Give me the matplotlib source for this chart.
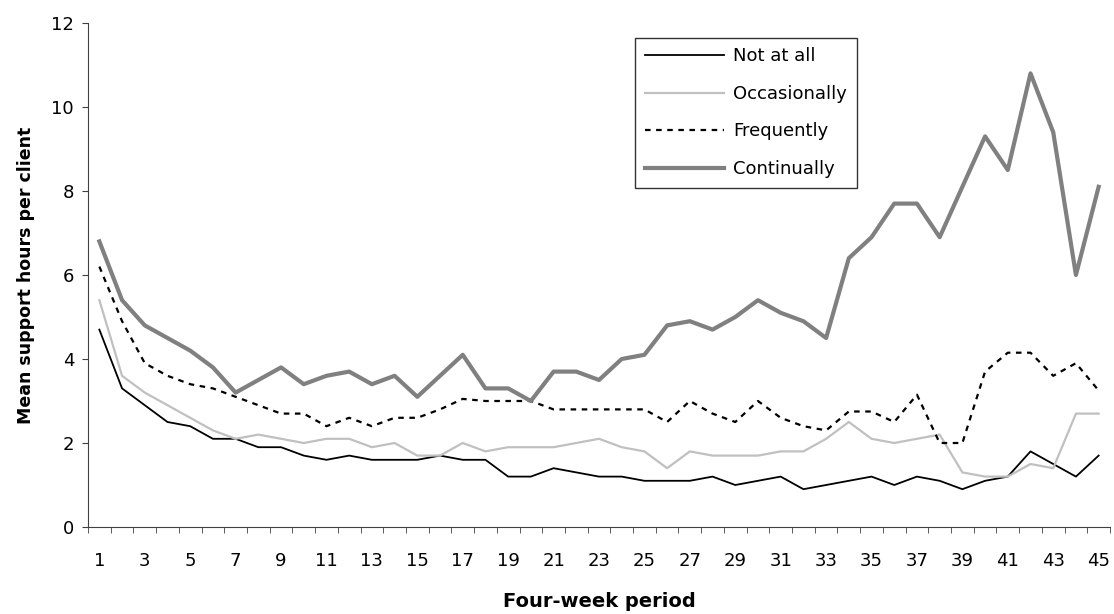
import matplotlib.pyplot as plt

plt.rcParams['font.family'] = ['DejaVu Sans']

periods = list(range(1, 46))

not_at_all = [4.7, 3.3, 2.9, 2.5, 2.4, 2.1, 2.1, 1.9, 1.9, 1.7,
              1.6, 1.7, 1.6, 1.6, 1.6, 1.7, 1.6, 1.6, 1.2, 1.2,
              1.4, 1.3, 1.2, 1.2, 1.1, 1.1, 1.1, 1.2, 1.0, 1.1,
              1.2, 0.9, 1.0, 1.1, 1.2, 1.0, 1.2, 1.1, 0.9, 1.1,
              1.2, 1.8, 1.5, 1.2, 1.7]
occasionally = [5.4, 3.6, 3.2, 2.9, 2.6, 2.3, 2.1, 2.2, 2.1, 2.0,
                2.1, 2.1, 1.9, 2.0, 1.7, 1.7, 2.0, 1.8, 1.9, 1.9,
                1.9, 2.0, 2.1, 1.9, 1.8, 1.4, 1.8, 1.7, 1.7, 1.7,
                1.8, 1.8, 2.1, 2.5, 2.1, 2.0, 2.1, 2.2, 1.3, 1.2,
                1.2, 1.5, 1.4, 2.7, 2.7]
frequently = [6.2, 4.9, 3.9, 3.6, 3.4, 3.3, 3.1, 2.9, 2.7, 2.7,
              2.4, 2.6, 2.4, 2.6, 2.6, 2.8, 3.05, 3.0, 3.0, 3.0,
              2.8, 2.8, 2.8, 2.8, 2.8, 2.5, 3.0, 2.7, 2.5, 3.0,
              2.6, 2.4, 2.3, 2.75, 2.75, 2.5, 3.15, 2.0, 2.0, 3.7,
              4.15, 4.15, 3.6, 3.9, 3.25]
continually = [6.8, 5.4, 4.8, 4.5, 4.2, 3.8, 3.2, 3.5, 3.8, 3.4,
               3.6, 3.7, 3.4, 3.6, 3.1, 3.6, 4.1, 3.3, 3.3, 3.0,
               3.7, 3.7, 3.5, 4.0, 4.1, 4.8, 4.9, 4.7, 5.0, 5.4,
               5.1, 4.9, 4.5, 6.4, 6.9, 7.7, 7.7, 6.9, 8.1, 9.3,
               8.5, 10.8, 9.4, 6.0, 8.1]

fig = plt.figure(figsize=(11.14, 6.14), dpi=100)
ax = fig.add_axes([88 / 1114, 1 - 527 / 614, (1110 - 88) / 1114, (527 - 23) / 614])

ax.plot(periods, not_at_all, color='black', lw=1.3, label='Not at all')
ax.plot(periods, occasionally, color='#c0c0c0', lw=1.6, label='Occasionally')
ax.plot(periods, frequently, color='black', lw=1.6, dashes=(2.5, 2.5), label='Frequently')
ax.plot(periods, continually, color='#808080', lw=3.0, label='Continually')

ax.set_xlim(0.5, 45.5)
ax.set_ylim(0, 12)

# labels on every other period, tick marks between the periods
ax.set_xticks(periods[::2])
ax.set_xticks([p + 0.5 for p in range(0, 46)], minor=True)
ax.tick_params(axis='x', which='major', length=0, pad=18, labelsize=13)
ax.tick_params(axis='x', which='minor', length=4.5, direction='out', color='#404040')
ax.set_yticks(range(0, 13, 2))
ax.tick_params(axis='y', length=4, direction='out', pad=6, labelsize=13, color='#404040')

for s in ['top', 'right']:
    ax.spines[s].set_visible(False)
for s in ['left', 'bottom']:
    ax.spines[s].set_color('#404040')

ax.set_ylabel('Mean support hours per client', fontsize=12.5, fontweight='bold')
ax.yaxis.set_label_coords(-0.052, 0.5)
ax.set_xlabel('Four-week period', fontsize=14, fontweight='bold')
ax.xaxis.set_label_coords(0.5, -0.128)

leg = ax.legend(loc='upper left', bbox_to_anchor=(635 / 1114, 1 - 37.5 / 614),
                bbox_transform=fig.transFigure, fontsize=13, frameon=True,
                fancybox=False, handlelength=4.4, handletextpad=0.5,
                labelspacing=1.08, borderpad=0.55, borderaxespad=0)
leg.get_frame().set_edgecolor('black')
leg.get_frame().set_linewidth(1.0)

fig.savefig('out.png', dpi=100)
